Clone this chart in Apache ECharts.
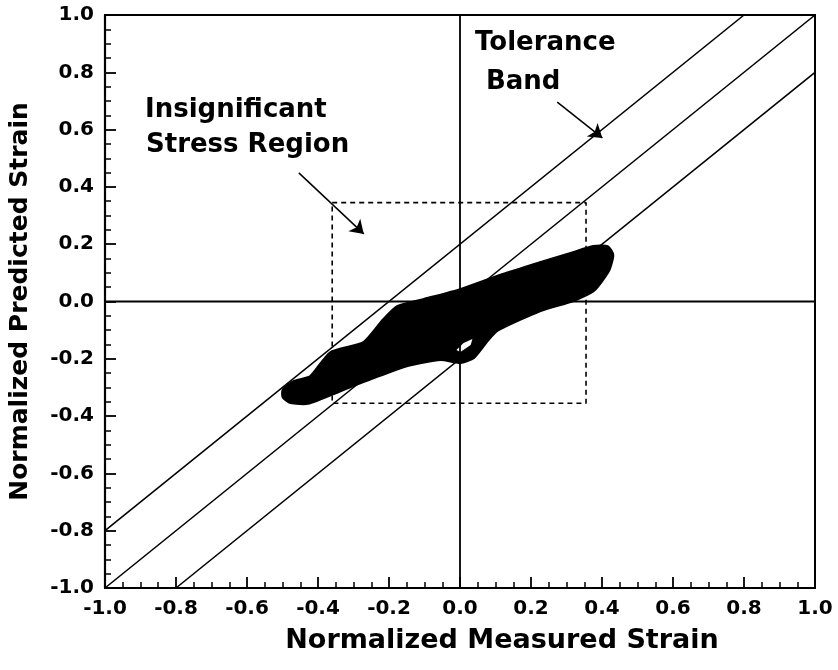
<!DOCTYPE html>
<html>
<head>
<meta charset="utf-8">
<script src="https://cdn.jsdelivr.net/npm/echarts@6/dist/echarts.min.js"></script>
<style>html,body{margin:0;padding:0;background:#fff;}#c{width:838px;height:670px;}</style>
</head>
<body>
<div id="c"></div>
<script>
// Axis ticks
var xTicks = [-1.0, -0.8, -0.6, -0.4, -0.2, 0.0, 0.2, 0.4, 0.6, 0.8, 1.0];
var yTicks = [-1.0, -0.8, -0.6, -0.4, -0.2, 0.0, 0.2, 0.4, 0.6, 0.8, 1.0];

// Measured vs predicted strain data cloud (outline)
var blobX = [-0.497, -0.468, -0.421, -0.364, -0.271, -0.215, -0.176, -0.103, 0.001, 0.105, 0.226, 0.319, 0.376, 0.415, 0.429,
             0.418, 0.376, 0.319, 0.226, 0.105, 0.077, 0.038, 0.001, -0.055, -0.148, -0.243, -0.336, -0.429, -0.477, -0.497];
var blobY = [-0.309, -0.281, -0.264, -0.180, -0.145, -0.065, -0.019, 0.005, 0.040, 0.086, 0.134, 0.169, 0.190, 0.190, 0.162,
             0.110, 0.040, 0.005, -0.030, -0.099, -0.134, -0.194, -0.211, -0.201, -0.222, -0.264, -0.309, -0.354, -0.351, -0.333];
var holeX = [-0.010, 0.010, 0.035, 0.030, 0.001];
var holeY = [-0.169, -0.145, -0.131, -0.152, -0.176];

// Perfect-agreement line and tolerance band (+/- 0.2)
var centerLine = [[-1.0, -1.0], [1.0, 1.0]];
var upperBand = [[-1.0, -0.8], [0.8, 1.0]];
var lowerBand = [[-0.8, -1.0], [1.0, 0.8]];
var zeroV = [[0.0, -1.0], [0.0, 1.0]];
var zeroH = [[-1.0, 0.0], [1.0, 0.0]];

// Insignificant stress region box
var regionX = [-0.36, 0.355, 0.355, -0.36, -0.36];
var regionY = [0.345, 0.345, -0.355, -0.355, 0.345];

// Annotation arrows
var bandArrow = [[0.274, 0.696], [0.401, 0.571]];
var regionArrow = [[-0.454, 0.449], [-0.271, 0.236]];

var chart = echarts.init(document.getElementById('c'), null, {renderer: 'canvas'});
var FONT = 'DejaVu Sans';

function lineSeries(data, width, type) {
  return {
    type: 'line', data: data, symbol: 'none', silent: true, z: 3,
    lineStyle: {color: '#000', width: width, type: type || 'solid'}
  };
}

var axisCommon = {
  min: -1, max: 1, interval: 0.2,
  axisLine: {onZero: false, lineStyle: {color: '#000', width: 2.2}},
  axisTick: {inside: true, length: 11, lineStyle: {color: '#000', width: 1.8}},
  minorTick: {show: true, splitNumber: 4, length: 6, lineStyle: {color: '#000', width: 1.5}},
  splitLine: {show: false},
  axisLabel: {
    color: '#000', fontFamily: FONT, fontWeight: 'bold', fontSize: 20, margin: 11,
    formatter: function (v) { return Number(v).toFixed(1); }
  },
  nameLocation: 'middle',
  nameTextStyle: {color: '#000', fontFamily: FONT, fontWeight: 'bold', fontSize: 25}
};

var rectData = regionX.map(function (x, i) { return [x, regionY[i]]; });

chart.setOption({
  animation: false,
  backgroundColor: '#fff',
  grid: {left: 104, right: 23, top: 15, bottom: 82, show: true, borderColor: '#000', borderWidth: 2},
  xAxis: Object.assign({}, axisCommon, {
    type: 'value', name: 'Normalized Measured Strain', nameGap: 39,
    nameTextStyle: {color: '#000', fontFamily: FONT, fontWeight: 'bold', fontSize: 27, padding: [0, 0, 0, 84]}
  }),
  yAxis: Object.assign({}, axisCommon, {type: 'value', name: 'Normalized Predicted Strain', nameGap: 72}),
  series: [
    {
      type: 'custom', coordinateSystem: 'cartesian2d', data: [[0, 0]], silent: true, z: 1,
      renderItem: function (params, api) {
        var pts = blobX.map(function (x, i) { return api.coord([x, blobY[i]]); });
        return {type: 'polygon', shape: {points: pts, smooth: 0.2}, style: {fill: '#000', stroke: '#000', lineWidth: 4, lineJoin: 'round'}};
      }
    },
    {
      type: 'custom', coordinateSystem: 'cartesian2d', data: [[0, 0]], silent: true, z: 2,
      renderItem: function (params, api) {
        var pts = holeX.map(function (x, i) { return api.coord([x, holeY[i]]); });
        return {type: 'polygon', shape: {points: pts}, style: {fill: '#fff'}};
      }
    },
    lineSeries(centerLine, 1.6),
    lineSeries(upperBand, 1.6),
    lineSeries(lowerBand, 1.6),
    lineSeries(zeroV, 1.8),
    lineSeries(zeroH, 1.8),
    lineSeries(rectData, 1.6, [5, 4]),
    {
      type: 'line', data: [], silent: true,
      markLine: {
        silent: true, animation: false,
        symbol: ['none', 'arrow'], symbolSize: 13,
        label: {show: false},
        lineStyle: {color: '#000', width: 1.5, type: 'solid'},
        data: [
          [{coord: bandArrow[0]}, {coord: bandArrow[1]}],
          [{coord: regionArrow[0]}, {coord: regionArrow[1]}]
        ]
      }
    }
  ],
  graphic: [
    {type: 'text', left: 475, top: 30, style: {text: 'Tolerance', fill: '#000', font: 'bold 26px "DejaVu Sans"'}},
    {type: 'text', left: 486, top: 69, style: {text: 'Band', fill: '#000', font: 'bold 26px "DejaVu Sans"'}},
    {type: 'text', left: 145, top: 97, style: {text: 'Insignificant', fill: '#000', font: 'bold 26px "DejaVu Sans"'}},
    {type: 'text', left: 146, top: 132, style: {text: 'Stress Region', fill: '#000', font: 'bold 26px "DejaVu Sans"'}}
  ]
});
</script>
</body>
</html>
